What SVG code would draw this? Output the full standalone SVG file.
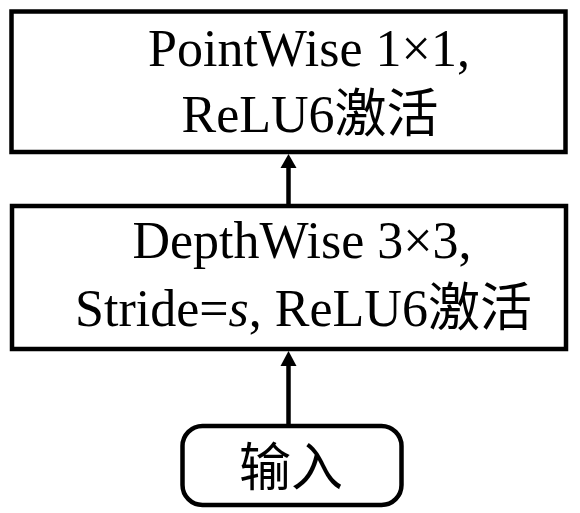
<svg xmlns="http://www.w3.org/2000/svg" width="580" height="513" viewBox="0 0 580 513">
  <style>
    .box { fill: #ffffff; stroke: #000000; stroke-width: 4.5; }
    .lbl { font-family: "Liberation Serif", "Noto Sans CJK SC", serif; font-size: 52px; fill: #000000; text-anchor: middle; }
    .conn { stroke: #000000; stroke-width: 4.5; fill: none; }
    .head { fill: #000000; stroke: none; }
  </style>
  <rect x="0" y="0" width="580" height="513" fill="#ffffff"/>
  <g id="pointwise">
    <rect class="box" x="11.5" y="11.5" width="554" height="140.5"/>
    <text class="lbl" x="309" y="66">PointWise 1×1,</text>
    <text class="lbl" x="310" y="132">ReLU6激活</text>
  </g>
  <g id="depthwise">
    <rect class="box" x="12" y="206" width="554" height="143"/>
    <text class="lbl" x="302" y="258">DepthWise 3×3,</text>
    <text class="lbl" x="303.5" y="326">Stride=<tspan font-style="italic">s</tspan>, ReLU6激活</text>
  </g>
  <g id="input">
    <rect class="box" x="182.5" y="426" width="219" height="79" rx="20" ry="20"/>
    <text class="lbl" x="291" y="486">输入</text>
  </g>
  <g id="connectors">
    <line class="conn" x1="288.5" y1="424" x2="288.5" y2="364"/>
    <polygon class="head" points="288.5,351 280.5,366 296.5,366"/>
    <line class="conn" x1="288.5" y1="204" x2="288.5" y2="166"/>
    <polygon class="head" points="288.5,154 280.5,168 296.5,168"/>
  </g>
</svg>
